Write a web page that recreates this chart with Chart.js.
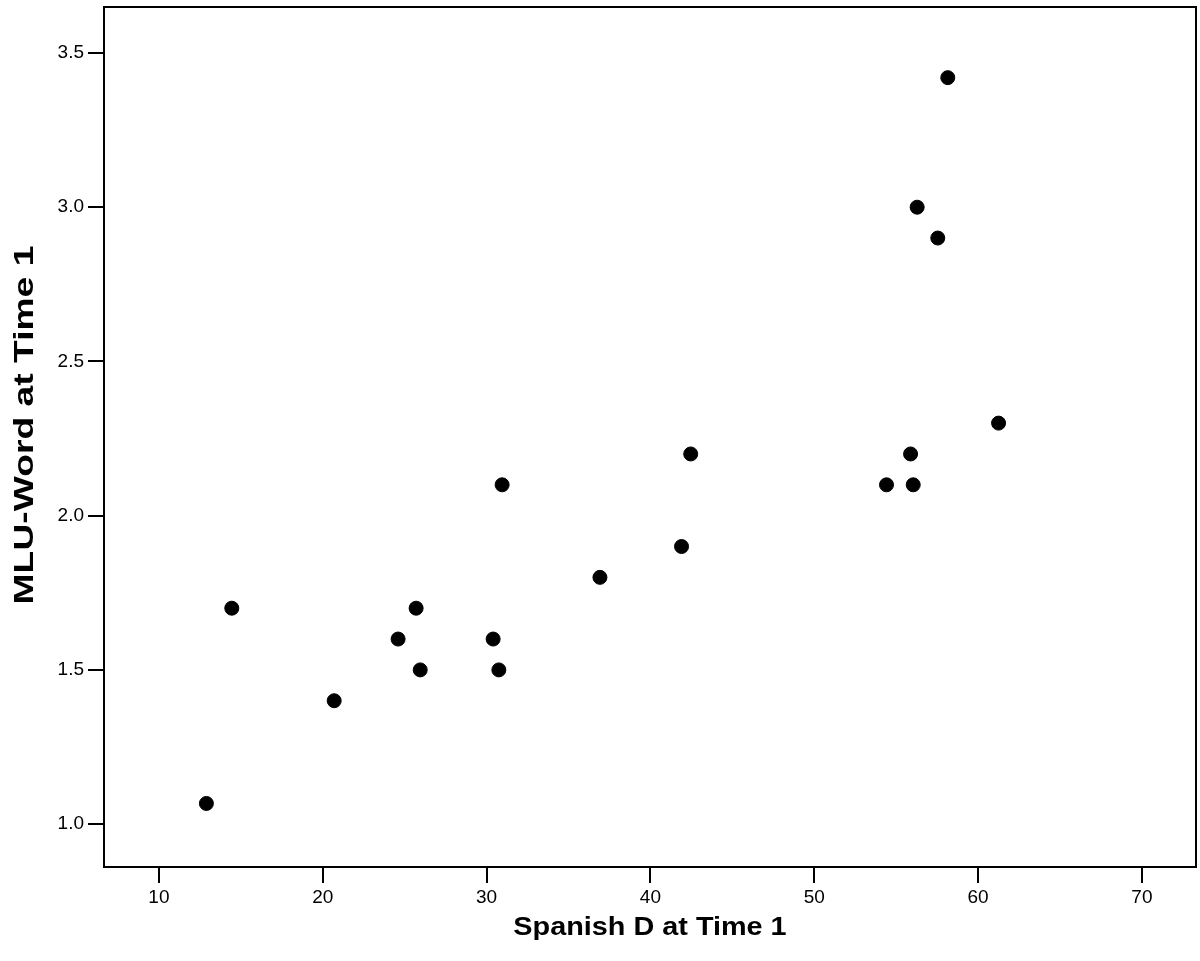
<!DOCTYPE html>
<html>
<head>
<meta charset="utf-8">
<script src="https://cdn.jsdelivr.net/npm/chart.js@4/dist/chart.umd.min.js"></script>
<style>
html,body{margin:0;padding:0;background:#fff;}
#wrap{width:1200px;height:961px;}
</style>
</head>
<body>
<div id="wrap"><canvas id="c" width="1200" height="961"></canvas></div>
<script>
const spanishD = [12.9, 14.45, 20.7, 24.6, 25.7, 25.95, 30.4, 30.75, 30.95, 36.92, 41.9, 42.46, 54.41, 55.88, 56.04, 56.28, 57.54, 58.15, 61.25];
const mluWord  = [1.067, 1.70, 1.40, 1.60, 1.70, 1.50, 1.60, 1.50, 2.10, 1.80, 1.90, 2.20, 2.10, 2.20, 2.10, 3.00, 2.90, 3.42, 2.30];
const xTicks = [10, 20, 30, 40, 50, 60, 70];
const yTicks = [1.0, 1.5, 2.0, 2.5, 3.0, 3.5];
const xTitle = 'Spanish D at Time 1';
const yTitle = 'MLU-Word at Time 1';

const points = spanishD.map((x, i) => ({x: x, y: mluWord[i]}));
const FAMILY = '"Liberation Sans", Arial, sans-serif';

const frameAndTitles = {
  id: 'frameAndTitles',
  afterDraw(chart) {
    const a = chart.chartArea, ctx = chart.ctx;
    ctx.save();
    ctx.strokeStyle = '#000';
    ctx.lineWidth = 2;
    ctx.strokeRect(a.left, a.top, a.right - a.left, a.bottom - a.top);
    ctx.restore();

    // x-axis title
    ctx.save();
    ctx.fillStyle = '#000';
    ctx.font = 'bold 25.5px ' + FAMILY;
    ctx.textAlign = 'center';
    ctx.textBaseline = 'alphabetic';
    ctx.translate((a.left + a.right) / 2, 935);
    ctx.scale(1.13, 1);
    ctx.fillText(xTitle, 0, 0);
    ctx.restore();

    // y-axis title
    ctx.save();
    ctx.fillStyle = '#000';
    ctx.font = 'bold 27px ' + FAMILY;
    ctx.textAlign = 'center';
    ctx.textBaseline = 'alphabetic';
    ctx.translate(33, 425);
    ctx.rotate(-Math.PI / 2);
    ctx.scale(1.38, 1);
    ctx.fillText(yTitle, 0, 0);
    ctx.restore();
  }
};

new Chart(document.getElementById('c'), {
  type: 'scatter',
  data: {datasets: [{data: points, backgroundColor: '#000', borderColor: '#000', pointRadius: 7, pointHoverRadius: 7}]},
  options: {
    responsive: false,
    animation: false,
    plugins: {legend: {display: false}, tooltip: {enabled: false}},
    layout: {autoPadding: false, padding: {left: 0, top: 7, right: 4, bottom: 0}},
    scales: {
      x: {
        type: 'linear', min: 6.65, max: 73.3,
        afterBuildTicks: s => { s.ticks = xTicks.map(v => ({value: v})); },
        afterFit: s => { s.height = 94; s.paddingLeft = 0; s.paddingRight = 0; },
        grid: {drawOnChartArea: false, drawTicks: true, tickLength: 16, color: '#000', lineWidth: 2},
        border: {display: true, color: '#000', width: 2},
        ticks: {color: '#000', font: {family: FAMILY, size: 19}, padding: 3, maxRotation: 0, callback: v => String(v)},
        title: {display: false}
      },
      y: {
        type: 'linear', min: 0.861, max: 3.649,
        afterBuildTicks: s => { s.ticks = yTicks.map(v => ({value: v})); },
        afterFit: s => { s.width = 104; s.paddingTop = 0; s.paddingBottom = 0; },
        grid: {drawOnChartArea: false, drawTicks: true, tickLength: 16, color: '#000', lineWidth: 2},
        border: {display: true, color: '#000', width: 2},
        ticks: {color: '#000', font: {family: FAMILY, size: 19}, padding: 4, callback: v => Number(v).toFixed(1)},
        title: {display: false}
      }
    }
  },
  plugins: [frameAndTitles]
});
</script>
</body>
</html>
